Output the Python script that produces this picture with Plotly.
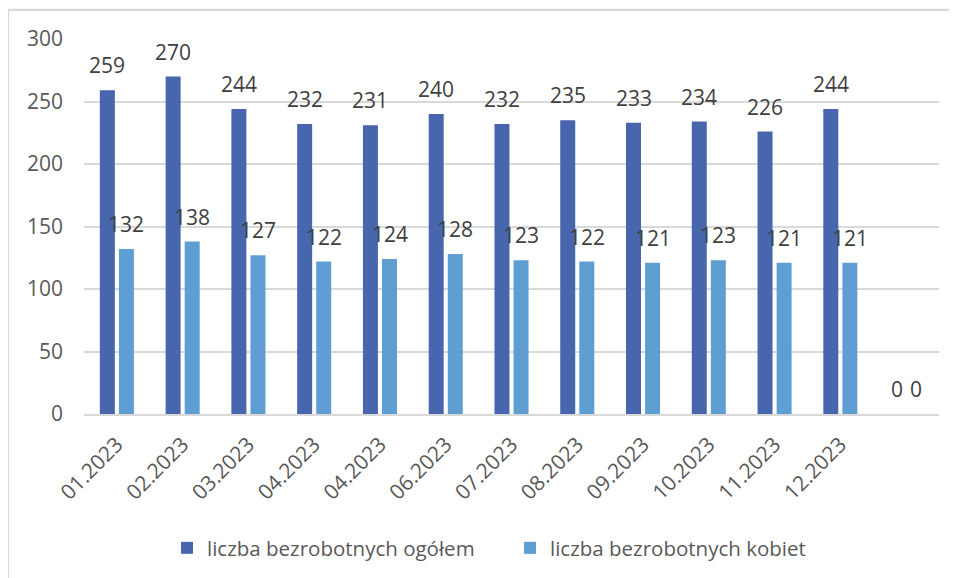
import plotly.graph_objects as go

months = ["01.2023", "02.2023", "03.2023", "04.2023", "04.2023", "06.2023",
          "07.2023", "08.2023", "09.2023", "10.2023", "11.2023", "12.2023", ""]
total = [259, 270, 244, 232, 231, 240, 232, 235, 233, 234, 226, 244, 0]
women = [132, 138, 127, 122, 124, 128, 123, 122, 121, 123, 121, 121, 0]
series_names = ["liczba bezrobotnych ogółem", "liczba bezrobotnych kobiet"]
y_ticks = [0, 50, 100, 150, 200, 250, 300]

C_DARK = "#4866AD"
C_LIGHT = "#5F9ED3"
TXT = "#595959"
FONT = "Open Sans"

# page body has an 8px default margin; figure is drawn inside it
OFF = 8
FW, FH = 957 - OFF, 578 - OFF

idx = list(range(len(months)))
W = 0.228
fig = go.Figure()
fig.add_trace(go.Bar(x=idx, y=total, name=series_names[0], marker_color=C_DARK,
                     marker_line_width=0, width=W, offset=-0.259))
fig.add_trace(go.Bar(x=idx, y=women, name=series_names[1], marker_color=C_LIGHT,
                     marker_line_width=0, width=W, offset=0.031))

ann = []
for i in idx:
    ann.append(dict(x=i - 0.145, y=total[i], text=str(total[i]), showarrow=False,
                    yshift=25, yanchor="middle", xanchor="center",
                    font=dict(family=FONT, size=21, color="#404040")))
    ann.append(dict(x=i + 0.145, y=women[i], text=str(women[i]), showarrow=False,
                    yshift=25, yanchor="middle", xanchor="center",
                    font=dict(family=FONT, size=21, color="#404040")))

# target pixel positions in the 957x578 window
PX_L, PX_R, PX_T, PX_B = 84, 939, 39, 415
L, T = PX_L - OFF, PX_T - OFF
R = FW - (PX_R - OFF)
B = FH - (PX_B - OFF)
pw, ph = PX_R - PX_L, PX_B - PX_T

shapes = [dict(type="rect", xref="paper", yref="paper", layer="below",
               x0=(8 - PX_L) / pw, x1=(965 - PX_L) / pw,
               y0=(PX_B - 590) / ph, y1=(PX_B - 10) / ph,
               line=dict(color="#D9D9D9", width=2), fillcolor="white")]

fig.update_layout(
    width=FW, height=FH,
    margin=dict(l=L, r=R, t=T, b=B),
    paper_bgcolor="#F7F7F7", plot_bgcolor="rgba(0,0,0,0)",
    barmode="group",
    showlegend=True,
    legend=dict(orientation="h", x=(167 - PX_L) / pw, xanchor="left",
                y=(PX_B - 548) / ph, yanchor="middle",
                font=dict(family=FONT, size=20.5, color=TXT),
                entrywidth=298, entrywidthmode="pixels", itemsizing="constant",
                bgcolor="rgba(0,0,0,0)"),
    annotations=ann, shapes=shapes,
    font=dict(family=FONT, color=TXT),
)
fig.update_xaxes(range=[-0.5, 12.5], tickvals=idx, ticktext=months, tickangle=-45,
                 tickfont=dict(family=FONT, size=21, color=TXT),
                 showgrid=False, showline=True, linecolor="#D9D9D9", linewidth=2,
                 zeroline=False, ticks="", ticklabelstandoff=8)
fig.update_yaxes(range=[0, 300], tickvals=y_ticks,
                 tickfont=dict(family=FONT, size=21, color=TXT),
                 showgrid=True, gridcolor="#D9D9D9", gridwidth=1.5,
                 zeroline=False, showline=False, ticks="", ticklabelstandoff=20)

fig.write_html("out.html")
